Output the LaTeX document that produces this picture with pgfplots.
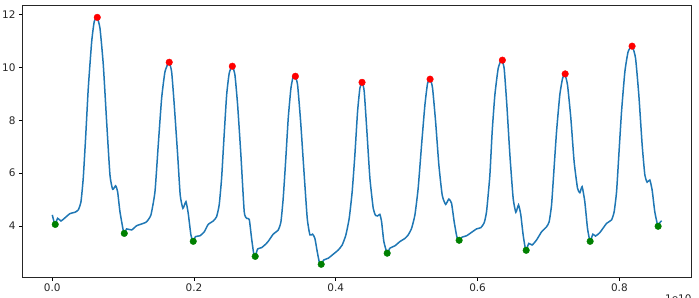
\documentclass[border=0pt]{standalone}
\usepackage{pgfplots}
\pgfplotsset{compat=1.18}
\usepackage{pgfplotstable}
\usepackage{fontspec}
\setmainfont{DejaVu Sans}
\definecolor{mplblue}{HTML}{1F77B4}
\definecolor{mplgreen}{HTML}{008000}

\pgfplotstableread{
x y
0.0000 4.42
0.0038 4.06
0.0076 4.29
0.0123 4.19
0.0179 4.31
0.0250 4.47
0.0320 4.52
0.0367 4.61
0.0405 4.92
0.0437 5.81
0.0470 7.32
0.0508 9.22
0.0556 10.98
0.0592 11.74
0.0630 11.92
0.0673 11.49
0.0720 10.10
0.0767 7.95
0.0814 5.93
0.0852 5.39
0.0894 5.52
0.0922 5.30
0.0955 4.54
0.1011 3.72
0.1049 3.89
0.1120 3.85
0.1190 4.01
0.1284 4.10
0.1331 4.16
0.1392 4.42
0.1449 5.30
0.1496 7.10
0.1543 8.84
0.1590 9.84
0.1646 10.20
0.1684 9.84
0.1721 8.58
0.1769 6.69
0.1805 5.17
0.1843 4.67
0.1886 4.92
0.1918 4.48
0.1956 3.66
0.1985 3.43
0.2022 3.60
0.2083 3.63
0.2144 3.78
0.2200 4.06
0.2271 4.19
0.2318 4.35
0.2355 4.80
0.2389 5.81
0.2422 7.32
0.2460 8.96
0.2496 9.78
0.2539 10.06
0.2577 9.72
0.2615 8.58
0.2661 6.69
0.2708 4.54
0.2742 4.29
0.2779 4.25
0.2812 3.53
0.2841 2.97
0.2863 2.85
0.2897 3.13
0.2953 3.18
0.3010 3.31
0.3047 3.42
0.3117 3.69
0.3188 3.85
0.3226 4.16
0.3258 5.05
0.3292 6.44
0.3329 8.08
0.3367 9.22
0.3399 9.66
0.3427 9.68
0.3461 9.34
0.3504 7.95
0.3551 6.06
0.3597 4.29
0.3635 3.66
0.3673 3.69
0.3705 3.53
0.3738 3.03
0.3766 2.65
0.3794 2.55
0.3828 2.71
0.3893 2.78
0.3963 2.93
0.4034 3.09
0.4090 3.28
0.4142 3.66
0.4189 4.29
0.4231 5.30
0.4269 6.69
0.4307 8.33
0.4340 9.22
0.4372 9.44
0.4401 9.09
0.4439 7.57
0.4481 5.81
0.4528 4.67
0.4561 4.40
0.4590 4.38
0.4622 4.44
0.4646 4.16
0.4678 3.41
0.4725 2.97
0.4763 3.16
0.4834 3.25
0.4904 3.41
0.4975 3.53
0.5021 3.66
0.5069 3.91
0.5116 4.42
0.5162 5.43
0.5210 7.07
0.5257 8.58
0.5295 9.41
0.5332 9.57
0.5365 9.22
0.5408 7.95
0.5454 6.31
0.5501 5.17
0.5549 4.82
0.5595 5.02
0.5633 4.86
0.5670 4.16
0.5708 3.59
0.5740 3.46
0.5783 3.58
0.5845 3.63
0.5915 3.76
0.5986 3.89
0.6047 3.94
0.6093 4.12
0.6127 4.55
0.6173 5.90
0.6206 7.57
0.6244 8.96
0.6291 9.97
0.6338 10.29
0.6375 9.97
0.6413 8.58
0.6456 6.69
0.6502 5.05
0.6540 4.52
0.6578 4.80
0.6610 4.42
0.6643 3.66
0.6680 3.09
0.6723 3.34
0.6770 3.28
0.6832 3.47
0.6903 3.78
0.6973 3.97
0.7010 4.16
0.7044 4.80
0.7076 6.06
0.7114 7.57
0.7160 8.96
0.7199 9.59
0.7231 9.75
0.7269 9.34
0.7316 8.08
0.7362 6.44
0.7410 5.43
0.7443 5.26
0.7475 5.49
0.7513 4.92
0.7551 3.91
0.7588 3.41
0.7626 3.69
0.7664 3.62
0.7725 3.75
0.7820 4.10
0.7890 4.23
0.7927 4.54
0.7961 5.30
0.7993 6.69
0.8031 8.33
0.8078 9.84
0.8124 10.60
0.8181 10.81
0.8229 10.35
0.8275 8.96
0.8322 7.07
0.8360 5.93
0.8392 5.66
0.8430 5.74
0.8463 5.36
0.8500 4.54
0.8543 4.00
0.8562 4.10
0.8596 4.20
}\signal

\pgfplotstableread{
x y
0.0635 11.90
0.1650 10.20
0.2540 10.05
0.3430 9.67
0.4370 9.44
0.5330 9.56
0.6350 10.28
0.7236 9.76
0.8180 10.81
}\peaks

\pgfplotstableread{
x y
0.0042 4.06
0.1016 3.72
0.1989 3.42
0.2863 2.85
0.3794 2.55
0.4725 2.97
0.5740 3.46
0.6686 3.08
0.7588 3.42
0.8547 3.99
}\troughs

\begin{document}
\begin{tikzpicture}
\useasboundingbox (-22.5bp,-21bp) rectangle (676.5bp,277bp);
\begin{axis}[
  at={(0,0)}, anchor=south west,
  scale only axis,
  width=669.2bp, height=271.7bp,
  xmin=-0.042, xmax=0.9021,
  ymin=2.069, ymax=12.357,
  xtick={0,0.2,0.4,0.6,0.8},
  ytick={4,6,8,10,12},
  xticklabel style={/pgf/number format/.cd,fixed,fixed zerofill,precision=1},
  /pgf/number format/assume math mode=true,
  tick label style={font=\fontsize{10.5}{12}\selectfont, text=black!85},
  tick align=outside,
  major tick length=3.5bp,
  tick style={black, line width=0.8bp},
  axis line style={line width=0.8bp, black!85},
  xtick pos=bottom, ytick pos=left,
  clip=false,
]
\addplot[mplblue, line width=1.5bp, smooth, tension=0.3] table[x=x,y=y] {\signal};
\addplot[only marks, mark=*, mark size=3.3bp, red, mark options={draw=red, fill=red}] table[x=x,y=y] {\peaks};
\addplot[only marks, mark=*, mark size=3.3bp, mplgreen, mark options={draw=mplgreen, fill=mplgreen}] table[x=x,y=y] {\troughs};
\end{axis}
\node[anchor=north east, inner sep=0pt, font=\fontsize{10.5}{12}\selectfont, text=black!85] at (669.2bp,-18bp) {1e10};
\end{tikzpicture}
\end{document}
